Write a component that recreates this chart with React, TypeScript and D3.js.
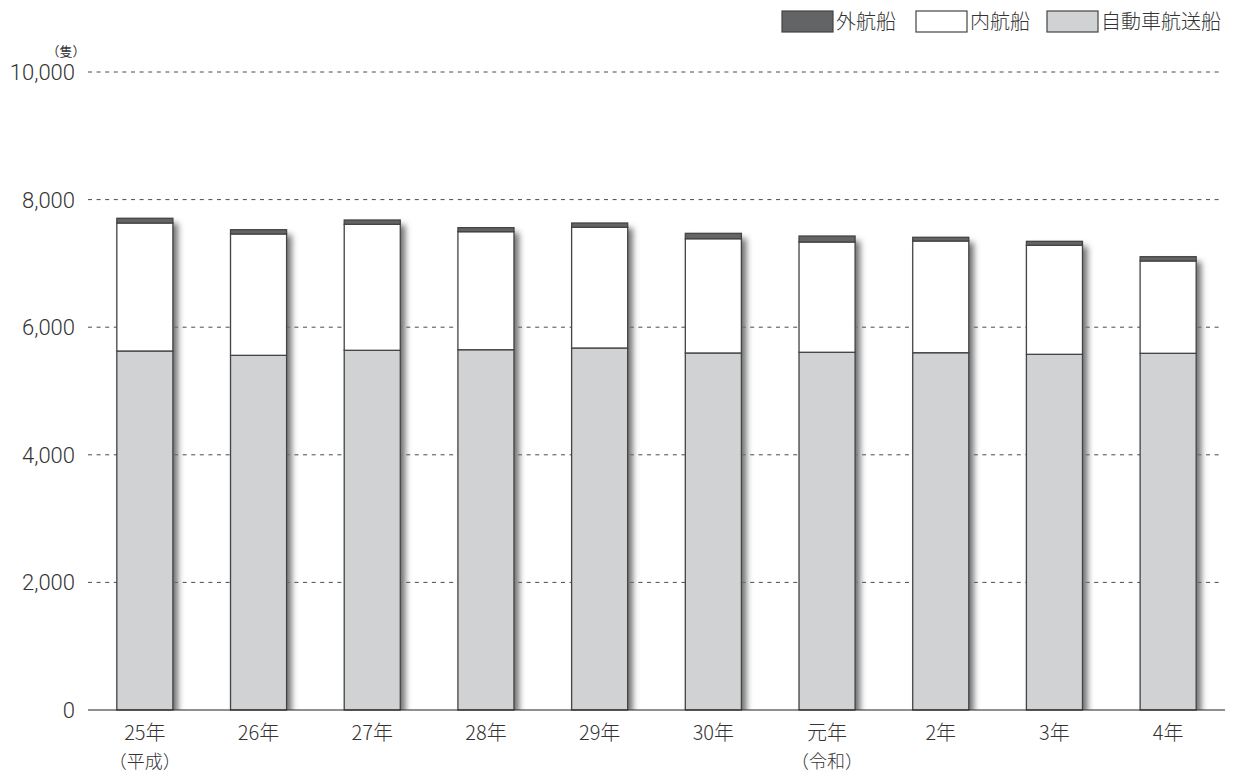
import React, { useEffect, useRef } from "react";
import * as d3 from "d3";

const years = ["25年", "26年", "27年", "28年", "29年", "30年", "元年", "2年", "3年", "4年"];
const eras = ["（平成）", "", "", "", "", "", "（令和）", "", "", ""];
const carFerry = [5627, 5559, 5638, 5647, 5674, 5596, 5607, 5600, 5575, 5591];
const domestic = [2006, 1902, 1975, 1850, 1892, 1791, 1728, 1751, 1708, 1447];
const ocean = [74, 67, 67, 63, 67, 84, 94, 58, 63, 67];
const yTicks = [0, 2000, 4000, 6000, 8000, 10000];

const seriesKeys = ["carFerry", "domestic", "ocean"];
const seriesNames = ["自動車航送船", "内航船", "外航船"];
const seriesColors = ["#d1d2d4", "#ffffff", "#636466"];

export default function App() {
  const ref = useRef<SVGSVGElement | null>(null);

  useEffect(() => {
    const width = 1240;
    const height = 774;
    const margin = { left: 88, right: 15, top: 72, bottom: 64 };
    const innerW = width - margin.left - margin.right;
    const innerH = height - margin.top - margin.bottom;
    const numFont = "Roboto, 'Liberation Sans', sans-serif";
    const jpFont = "'Noto Sans CJK JP', sans-serif";

    const svg = d3.select(ref.current);
    svg.selectAll("*").remove();

    const table = years.map((y, i) => ({ year: y, carFerry: carFerry[i], domestic: domestic[i], ocean: ocean[i] }));
    const stacked = d3.stack<any>().keys(seriesKeys)(table);

    const x = d3.scaleBand().domain(years).range([0, innerW]).paddingInner(0.507).paddingOuter(0.2535);
    const y = d3.scaleLinear().domain([0, 10000]).range([innerH, 0]);

    const defs = svg.append("defs");
    defs.append("filter").attr("id", "shadow").attr("x", "-50%").attr("y", "-10%").attr("width", "200%").attr("height", "120%")
      .append("feGaussianBlur").attr("stdDeviation", 3);
    defs.append("clipPath").attr("id", "plotClip")
      .append("rect").attr("x", -20).attr("y", -20).attr("width", innerW + 40).attr("height", innerH + 20);

    const g = svg.append("g").attr("transform", `translate(${margin.left},${margin.top})`);

    // grid lines
    g.selectAll(".grid")
      .data(yTicks.filter((t) => t > 0))
      .enter()
      .append("line")
      .attr("x1", 0)
      .attr("x2", innerW - 4)
      .attr("y1", (d) => y(d))
      .attr("y2", (d) => y(d))
      .attr("stroke", "#4a4a4a")
      .attr("stroke-width", 1)
      .attr("stroke-dasharray", "4,4.6");

    // y labels
    g.selectAll(".ylab")
      .data(yTicks)
      .enter()
      .append("text")
      .attr("x", -13)
      .attr("y", (d) => y(d))
      .attr("dy", "0.36em")
      .attr("text-anchor", "end")
      .attr("font-family", numFont)
      .attr("font-weight", 300)
      .attr("font-size", 22)
      .attr("fill", "#333")
      .text((d) => d3.format(",")(d));

    g.append("text")
      .attr("x", -22)
      .attr("y", -16)
      .attr("text-anchor", "middle")
      .attr("font-family", jpFont)
      .attr("font-size", 13)
      .attr("fill", "#333")
      .text("（隻）");

    // shadows
    g.append("g")
      .attr("clip-path", "url(#plotClip)")
      .selectAll("rect")
      .data(table)
      .enter()
      .append("rect")
      .attr("x", (d) => (x(d.year) as number) + 5)
      .attr("y", (d) => y(d.carFerry + d.domestic + d.ocean) + 5)
      .attr("width", x.bandwidth())
      .attr("height", (d) => innerH - y(d.carFerry + d.domestic + d.ocean))
      .attr("fill", "#6e6f71")
      .attr("filter", "url(#shadow)");

    // bars
    g.selectAll(".layer")
      .data(stacked)
      .enter()
      .append("g")
      .attr("fill", (d, i) => seriesColors[i])
      .selectAll("rect")
      .data((d) => d)
      .enter()
      .append("rect")
      .attr("x", (d: any) => x(d.data.year) as number)
      .attr("y", (d) => y(d[1]))
      .attr("width", x.bandwidth())
      .attr("height", (d) => y(d[0]) - y(d[1]))
      .attr("stroke", "#444")
      .attr("stroke-width", 1.3);

    // baseline
    g.append("line")
      .attr("x1", 0)
      .attr("x2", innerW)
      .attr("y1", innerH)
      .attr("y2", innerH)
      .attr("stroke", "#222")
      .attr("stroke-width", 1.2);

    // x labels
    g.selectAll(".xlab").data(years).enter().append("text")
      .attr("x", (d) => (x(d) as number) + x.bandwidth() / 2)
      .attr("y", innerH + 30)
      .attr("text-anchor", "middle")
      .attr("font-family", jpFont)
      .attr("font-weight", 300)
      .attr("font-size", 20)
      .attr("fill", "#333")
      .text((d) => d);
    g.selectAll(".era").data(years).enter().append("text")
      .attr("x", (d) => (x(d) as number) + x.bandwidth() / 2)
      .attr("y", innerH + 58)
      .attr("text-anchor", "middle")
      .attr("font-family", jpFont)
      .attr("font-weight", 300)
      .attr("font-size", 18)
      .attr("fill", "#333")
      .text((d, i) => eras[i]);

    // legend
    const legendX = [782, 916, 1047];
    const legendOrder = [2, 1, 0];
    const lg = svg.selectAll(".legend").data(legendOrder).enter().append("g")
      .attr("transform", (d, i) => `translate(${legendX[i]},11)`);
    lg.append("rect")
      .attr("width", 51)
      .attr("height", 21)
      .attr("fill", (d) => seriesColors[d])
      .attr("stroke", "#444")
      .attr("stroke-width", 1.2);
    lg.append("text")
      .attr("x", 54)
      .attr("y", 18)
      .attr("font-family", jpFont)
      .attr("font-weight", 300)
      .attr("font-size", 20)
      .attr("fill", "#333")
      .text((d) => seriesNames[d]);
  }, []);

  return <svg ref={ref} width={1240} height={774} style={{ display: "block", position: "absolute", left: 0, top: 0 }} />;
}
